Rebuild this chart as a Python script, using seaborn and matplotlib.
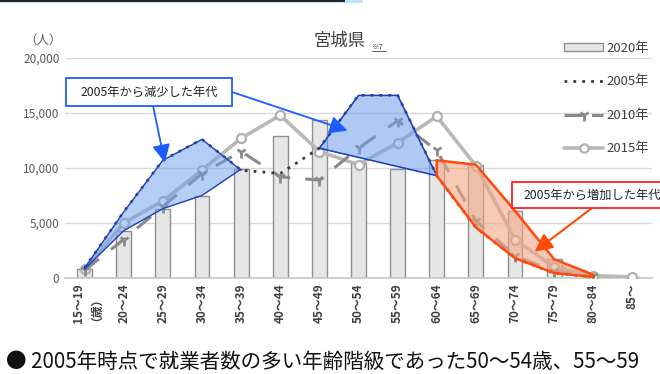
import numpy as np
import pandas as pd
import matplotlib
matplotlib.use("Agg")
import matplotlib.pyplot as plt
from matplotlib.patches import Rectangle, Patch
from matplotlib.lines import Line2D
import seaborn as sns

# 宮城県 年齢階級別 就業者数
age_groups = ["15～19\n（歳）", "20～24", "25～29", "30～34", "35～39", "40～44", "45～49",
              "50～54", "55～59", "60～64", "65～69", "70～74", "75～79", "80～84", "85～"]
workers_2020 = [800, 4300, 6300, 7500, 9900, 12900, 14400, 10500, 9900, 10700, 10300, 6100, 1700, 300, 50]
workers_2005 = [900, 6000, 10700, 12600, 9800, 9500, 11800, 16600, 16600, 9300, 4600, 1800, 450, 100, np.nan]
workers_2010 = [700, 3500, 6500, 9500, 11500, 9200, 8900, 11800, 14300, 11600, 5200, 2000, 600, 150, np.nan]
workers_2015 = [800, 5000, 7000, 9800, 12700, 14800, 11500, 10300, 12300, 14700, 10200, 3500, 1000, 200, 100]
yticks = [0, 5000, 10000, 15000, 20000]

sns.set_theme(style="white")
plt.rcParams["font.family"] = ["Noto Sans CJK JP", "DejaVu Sans"]

W, H = 660, 374
fig = plt.figure(figsize=(6.6, 3.74), dpi=100)
ax = fig.add_axes([65 / W, 1 - 278 / H, (652 - 65) / W, (278 - 58) / H])

x = np.arange(len(age_groups))
df = pd.DataFrame({"age": age_groups, "y2020": workers_2020})

# 2020年: bars
sns.barplot(data=df, x="age", y="y2020", ax=ax, color="#e6e6e6", edgecolor="#8f8f8f",
            linewidth=1.0, width=0.38, saturation=1, zorder=2)

# 2015年 / 2010年 / 2005年: lines
sns.lineplot(x=x, y=workers_2015, ax=ax, color="#b8b8b8", lw=2.6, marker="o", markersize=6.5,
             markerfacecolor="white", markeredgecolor="#b0b0b0", markeredgewidth=1.6, zorder=3)
sns.lineplot(x=x, y=workers_2010, ax=ax, color="#8a8a8a", lw=2.2, dashes=False, zorder=4)
ax.lines[-1].set_dashes([6, 5])
ax.plot(x, workers_2010, ls="none", marker="1", ms=8, mew=2, color="#8a8a8a", zorder=4)
sns.lineplot(x=x, y=workers_2005, ax=ax, color="#3a3a3a", lw=2.0, zorder=5)
ax.lines[-1].set_linestyle((0, (1, 2.2)))

# highlighted regions (2005 vs 2020)
y05 = np.array(workers_2005, dtype=float)
y20 = np.array(workers_2020, dtype=float)
dec = slice(0, 5)
ax.fill_between(x[dec], y20[dec], y05[dec], facecolor="#6d9eeb", alpha=0.5, edgecolor="none", zorder=6)
poly1 = np.concatenate([np.c_[x[dec], y05[dec]], np.c_[x[dec][::-1], y20[dec][::-1]]])
ax.add_patch(plt.Polygon(poly1, closed=True, fill=False, edgecolor="#1a3fbf", lw=1.0, zorder=6))
dec2 = slice(6, 10)
ax.fill(x[dec2], y05[dec2], facecolor="#6d9eeb", alpha=0.55, edgecolor="#1a3fbf", lw=1.0, zorder=6)
ax.fill(x[dec2], y05[dec2], facecolor="none", edgecolor="#1a3fbf", lw=1.0, zorder=6)
inc = slice(9, 14)
poly3 = np.concatenate([np.c_[x[inc], y20[inc]], np.c_[x[inc][::-1], y05[inc][::-1]]])
ax.add_patch(plt.Polygon(poly3, closed=True, facecolor="#f4a582", alpha=0.6, edgecolor="none", zorder=6))
ax.add_patch(plt.Polygon(poly3, closed=True, fill=False, edgecolor="#ff4a0a", lw=1.8, zorder=6))

ax.set_xlim(-0.5, 14.5)
ax.set_ylim(0, 20000)
ax.set_yticks(yticks)
ax.set_yticklabels([f"{v:,}" for v in yticks], color="#595959", fontsize=8.5)
ax.set_xticks(x)
ax.set_xticklabels(age_groups, rotation=90, fontsize=8.5, color="#404040", fontweight="bold",
                   linespacing=0.9, va="top")
ax.set_xlabel("")
ax.set_ylabel("")
ax.tick_params(axis="both", length=0, pad=4)
ax.grid(axis="y", color="#d9d9d9", lw=1.0, zorder=0)
ax.set_axisbelow(True)
for s in ["top", "right", "left"]:
    ax.spines[s].set_visible(False)
ax.spines["bottom"].set_color("#c8c8c8")
ax.spines["bottom"].set_linewidth(1.2)

# axis unit & title
fig.text(43 / W, 1 - 40 / H, "（人）", fontsize=9, color="#595959", ha="center", va="center")
fig.text(340 / W, 1 - 41 / H, "宮城県", fontsize=12.5, color="#404040", ha="center", va="center")
fig.text(372 / W, 1 - 49 / H, "※7", fontsize=5.5, color="#404040", ha="left", va="baseline")
fig.add_artist(Line2D([372 / W, 386 / W], [1 - 50.5 / H, 1 - 50.5 / H], color="#404040", lw=0.6))

# legend
handles = [
    Patch(facecolor="#e6e6e6", edgecolor="#8f8f8f", lw=1.0),
    Line2D([], [], color="#3a3a3a", lw=2.0, ls=(0, (1, 2.2))),
    Line2D([], [], color="#8a8a8a", lw=2.2, ls=(0, (6, 3)), marker="1", ms=8, mew=2),
    Line2D([], [], color="#b8b8b8", lw=2.6, marker="o", ms=6, mfc="white", mec="#b0b0b0", mew=1.6),
]
leg = fig.legend(handles, ["2020年", "2005年", "2010年", "2015年"], loc="upper left",
                 bbox_to_anchor=(552 / W, 1 - 30 / H), frameon=False, fontsize=9.5,
                 handlelength=3.0, handleheight=0.5, handletextpad=0.2, labelspacing=1.55,
                 labelcolor="#404040")

# call-out boxes
fig.add_artist(Rectangle((66 / W, 1 - 106 / H), 166 / W, 28 / H, transform=fig.transFigure,
                         facecolor="white", edgecolor="#1f5cff", lw=1.3, zorder=10))
fig.text(149 / W, 1 - 92 / H, "2005年から減少した年代", fontsize=8.8, color="#222222",
         ha="center", va="center", zorder=11)
fig.add_artist(Rectangle((512 / W, 1 - 208 / H), 160 / W, 26 / H, transform=fig.transFigure,
                         facecolor="white", edgecolor="#ff2020", lw=1.3, zorder=10))
fig.text(524 / W, 1 - 195 / H, "2005年から増加した年代", fontsize=8.8, color="#222222",
         ha="left", va="center", zorder=11)

blue_arrow = dict(arrowstyle="-|>,head_length=0.9,head_width=0.45", color="#1f5cff", lw=1.3,
                  shrinkA=0, shrinkB=0)
ax.annotate("", xy=(2.05, 10500), xytext=(151 / W, 1 - 96 / H), textcoords="figure fraction",
            arrowprops=blue_arrow, zorder=12)
ax.annotate("", xy=(6.72, 13400), xytext=(232 / W, 1 - 92 / H), textcoords="figure fraction",
            arrowprops=blue_arrow, zorder=12)
ax.annotate("", xy=(11.5, 2400), xytext=(592 / W, 1 - 208 / H), textcoords="figure fraction",
            arrowprops=dict(arrowstyle="-|>,head_length=0.9,head_width=0.45", color="#ff4a0a",
                            lw=1.5, shrinkA=0, shrinkB=0), zorder=12)

# slide header strip and footer sentence
fig.add_artist(Rectangle((0, 1 - 3 / H), 363 / W, 3 / H, transform=fig.transFigure,
                         facecolor="#bfe6f7", edgecolor="none"))
fig.add_artist(Rectangle((0, 1 - 1.5 / H), 345 / W, 1.5 / H, transform=fig.transFigure,
                         facecolor="#222222", edgecolor="none"))
fig.text(6 / W, 1 - 362 / H, "● 2005年時点で就業者数の多い年齢階級であった50～54歳、55～59",
         fontsize=14.8, color="#111111", ha="left", va="center")

fig.savefig("out.png", dpi=100)
